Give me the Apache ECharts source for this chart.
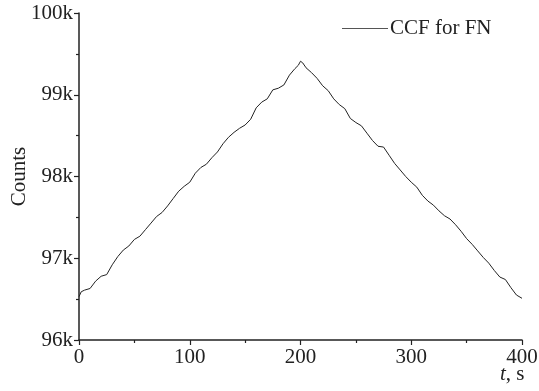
<!DOCTYPE html>
<html>
<head>
<meta charset="utf-8">
<script src="https://cdn.jsdelivr.net/npm/echarts@6/dist/echarts.min.js"></script>
<style>
  html, body { margin: 0; padding: 0; background: #fff; }
  #chart { width: 539px; height: 391px; }
</style>
</head>
<body>
<div id="chart"></div>
<script>
  // time (s) and counts
  const times = [
    0, 2, 5, 10, 15, 20, 25, 30, 35, 40, 45, 50, 55, 60, 65, 70, 75, 80, 85, 90,
    95, 100, 105, 110, 115, 120, 125, 130, 135, 140, 145, 150, 155, 160, 165, 170, 175, 180, 185, 190,
    195, 198, 200, 202, 205, 210, 215, 220, 225, 230, 235, 240, 245, 250, 255, 260, 265, 270, 275, 280,
    285, 290, 295, 300, 305, 310, 315, 320, 325, 330, 335, 340, 345, 350, 355, 360, 365, 370, 375, 380,
    385, 390, 395, 400,
  ];
  const counts = [
    96530, 96590, 96610, 96630, 96720, 96780, 96800, 96920, 97020, 97100, 97150, 97230, 97270, 97350, 97430, 97510, 97560, 97640, 97730, 97820,
    97880, 97930, 98040, 98110, 98150, 98230, 98300, 98400, 98480, 98540, 98590, 98630, 98700, 98840, 98910, 98950, 99060, 99080, 99120, 99240,
    99320, 99360, 99410, 99390, 99330, 99270, 99200, 99110, 99050, 98950, 98880, 98830, 98710, 98660, 98620, 98530, 98440, 98370, 98360, 98260,
    98160, 98080, 98000, 97930, 97870, 97770, 97700, 97650, 97580, 97520, 97480, 97410, 97330, 97240, 97170, 97090, 97010, 96940, 96850, 96770,
    96740, 96640, 96550, 96510,
  ];
  const seriesName = 'CCF for FN';

  const font = '"Liberation Serif", "DejaVu Serif", serif';
  const chart = echarts.init(document.getElementById('chart'), null, { renderer: 'canvas' });

  chart.setOption({
    animation: false,
    textStyle: { fontFamily: font },
    legend: {
      top: 18,
      left: 342,
      padding: 0,
      itemWidth: 46,
      itemHeight: 2,
      itemGap: 0,
      data: [{ name: seriesName, icon: 'path://M0,0H46V1H0Z' }],
      itemStyle: { color: '#555' },
      textStyle: { fontFamily: font, fontSize: 21, color: '#222', padding: [0, 0, 0, -3] },
    },
    grid: { left: 79, right: 17, top: 13, bottom: 51, containLabel: false, outerBoundsMode: 'none' },
    xAxis: {
      type: 'value',
      min: 0,
      max: 400,
      interval: 100,
      name: '{i|t}, s',
      nameLocation: 'end',
      nameGap: -22,
      nameMoveOverlap: false,
      nameTextStyle: {
        fontFamily: font, fontSize: 21, color: '#222', align: 'left', verticalAlign: 'top',
        padding: [24, 0, 0, 0],
        rich: { i: { fontStyle: 'italic', fontFamily: font, fontSize: 21, color: '#222' } },
      },
      axisLine: { lineStyle: { color: '#222', width: 1.5 } },
      axisTick: { show: true, inside: false, length: 5, lineStyle: { color: '#222', width: 1.2 } },
      minorTick: { show: true, splitNumber: 2, length: 3, lineStyle: { color: '#222', width: 1.2 } },
      axisLabel: { fontFamily: font, fontSize: 21, color: '#222', margin: 7 },
      splitLine: { show: false },
    },
    yAxis: {
      type: 'value',
      min: 96000,
      max: 100000,
      interval: 1000,
      name: 'Counts',
      nameLocation: 'middle',
      nameGap: 49,
      nameMoveOverlap: false,
      nameTextStyle: { fontFamily: font, fontSize: 21, color: '#222' },
      axisLine: { show: true, lineStyle: { color: '#222', width: 1.5 } },
      axisTick: { show: true, inside: false, length: 5, lineStyle: { color: '#222', width: 1.2 } },
      minorTick: { show: true, splitNumber: 2, length: 3, lineStyle: { color: '#222', width: 1.2 } },
      axisLabel: {
        fontFamily: font, fontSize: 21, color: '#222', margin: 6,
        formatter: (v) => `${Math.round(v / 1000)}k`,
      },
      splitLine: { show: false },
    },
    series: [{
      name: seriesName,
      type: 'line',
      showSymbol: false,
      smooth: false,
      lineStyle: { width: 1, color: '#222' },
      itemStyle: { color: '#222' },
      data: times.map((t, i) => [t, counts[i]]),
    }],
  });
</script>
</body>
</html>
